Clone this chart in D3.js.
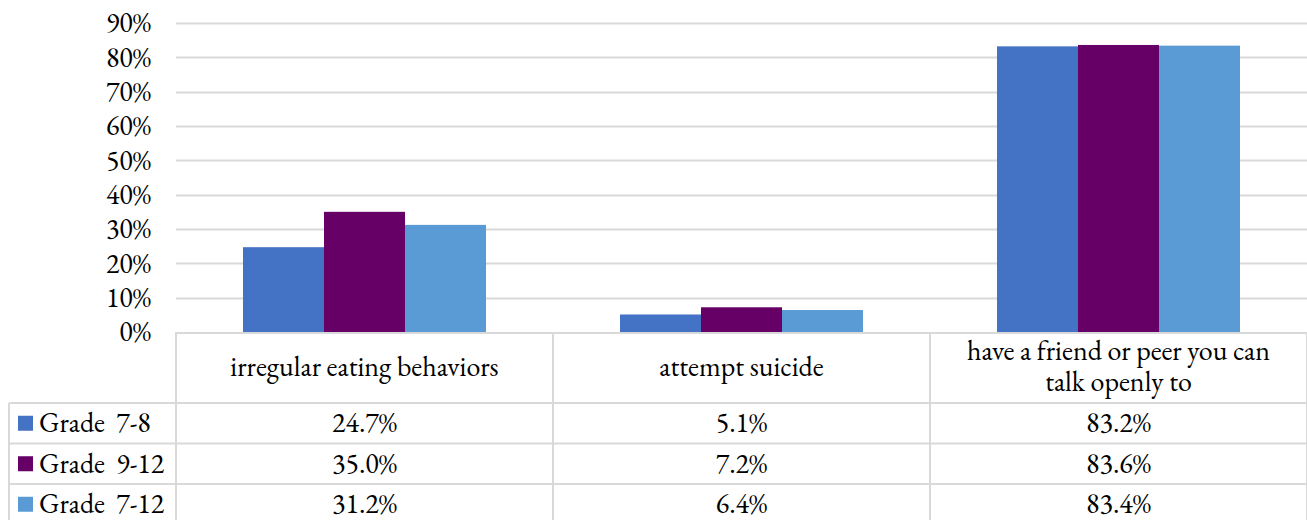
<!DOCTYPE html>
<html><head><meta charset="utf-8">
<script src="https://cdn.jsdelivr.net/npm/d3@7"></script>
<style>body{margin:0;background:#fff;} svg{display:block;}</style>
</head><body><svg id="c" width="1307" height="520"></svg>
<script>
const categories = ["irregular eating behaviors", "attempt suicide", "have a friend or peer you can talk openly to"];
const categoryLines = [["irregular eating behaviors"], ["attempt suicide"], ["have a friend or peer you can", "talk openly to"]];
const seriesNames = ["Grade  7-8", "Grade  9-12", "Grade  7-12"];
const grade78 = [0.247, 0.051, 0.832];
const grade912 = [0.350, 0.072, 0.836];
const grade712 = [0.312, 0.064, 0.834];
const seriesValues = [grade78, grade912, grade712];
const colors = ["#4472C4", "#660066", "#5B9BD5"];
const yTicks = [0, 0.1, 0.2, 0.3, 0.4, 0.5, 0.6, 0.7, 0.8, 0.9];

const FONT = "EB Garamond";
const svg = d3.select("#c");
const plotL = 176, plotR = 1307, plotT = 23, plotB = 332;
const x0 = d3.scaleBand().domain(categories).range([plotL, plotR]).paddingInner(0).paddingOuter(0);
const x1 = d3.scaleBand().domain(seriesNames).range([0, x0.bandwidth()]).paddingInner(0).paddingOuter(0.827);
const y = d3.scaleLinear().domain([0, 0.9]).range([plotB, plotT]);
const grid = "#d9d9d9";
const fs = 28;

function txt(g) { return g.append("text").attr("font-family", FONT).attr("font-size", fs).attr("fill", "#000"); }

// gridlines
svg.append("g").selectAll("line").data(yTicks.slice(1)).join("line")
  .attr("x1", plotL).attr("x2", plotR)
  .attr("y1", d => Math.round(y(d)) + 0.5).attr("y2", d => Math.round(y(d)) + 0.5)
  .attr("stroke", grid).attr("stroke-width", 2);

// y labels
svg.append("g").selectAll("text").data(yTicks).join("text")
  .attr("font-family", FONT).attr("font-size", fs).attr("fill", "#000")
  .attr("x", 151).attr("y", d => y(d)).attr("dy", "0.33em")
  .attr("text-anchor", "end")
  .text(d => d3.format(".0%")(d));

// bars
const bars = [];
categories.forEach((c, i) => seriesNames.forEach((s, j) => bars.push({c, s, v: seriesValues[j][i], j})));
svg.append("g").selectAll("rect").data(bars).join("rect")
  .attr("x", d => x0(d.c) + x1(d.s)).attr("width", x1.bandwidth())
  .attr("y", d => y(d.v)).attr("height", d => y(0) - y(d.v))
  .attr("fill", d => colors[d.j]);

// table
const rowH = 40.5, headBottom = 403;
const tg = svg.append("g");
const tableLeft = 9;
tg.append("line").attr("x1", plotL).attr("x2", plotR).attr("y1", plotB + 1).attr("y2", plotB + 1).attr("stroke", grid).attr("stroke-width", 2);
for (let r = 0; r <= 3; r++) {
  const yy = headBottom + r * rowH;
  tg.append("line").attr("x1", tableLeft).attr("x2", plotR).attr("y1", yy).attr("y2", yy).attr("stroke", grid).attr("stroke-width", 2);
}
const vx = [plotL, ...categories.map(c => x0(c) + x0.bandwidth())];
vx.forEach(xx => tg.append("line").attr("x1", xx).attr("x2", xx).attr("y1", plotB).attr("y2", 530).attr("stroke", grid).attr("stroke-width", 2));
tg.append("line").attr("x1", tableLeft).attr("x2", tableLeft).attr("y1", headBottom).attr("y2", 530).attr("stroke", grid).attr("stroke-width", 2);

categories.forEach((c, i) => {
  const lines = categoryLines[i];
  const cy = (plotB + headBottom) / 2;
  const lh = 31;
  const cx = x0(c) + x0.bandwidth() / 2;
  const t = txt(tg).attr("text-anchor", "middle");
  lines.forEach((ln, k) => {
    t.append("tspan").attr("x", cx)
      .attr("y", cy + (k - (lines.length - 1) / 2) * lh).attr("dy", "0.3em").text(ln);
  });
});

seriesNames.forEach((s, j) => {
  const cy = headBottom + j * rowH + rowH / 2;
  tg.append("rect").attr("x", 18).attr("y", cy - 7.5).attr("width", 15).attr("height", 15).attr("fill", colors[j]);
  txt(tg).attr("x", 39).attr("y", cy).attr("dy", "0.33em").attr("xml:space", "preserve").style("white-space", "pre").text(s);
  categories.forEach((c, i) => {
    txt(tg).attr("x", x0(c) + x0.bandwidth() / 2).attr("y", cy).attr("dy", "0.33em")
      .attr("text-anchor", "middle").text(d3.format(".1%")(seriesValues[j][i]));
  });
});
</script></body></html>
